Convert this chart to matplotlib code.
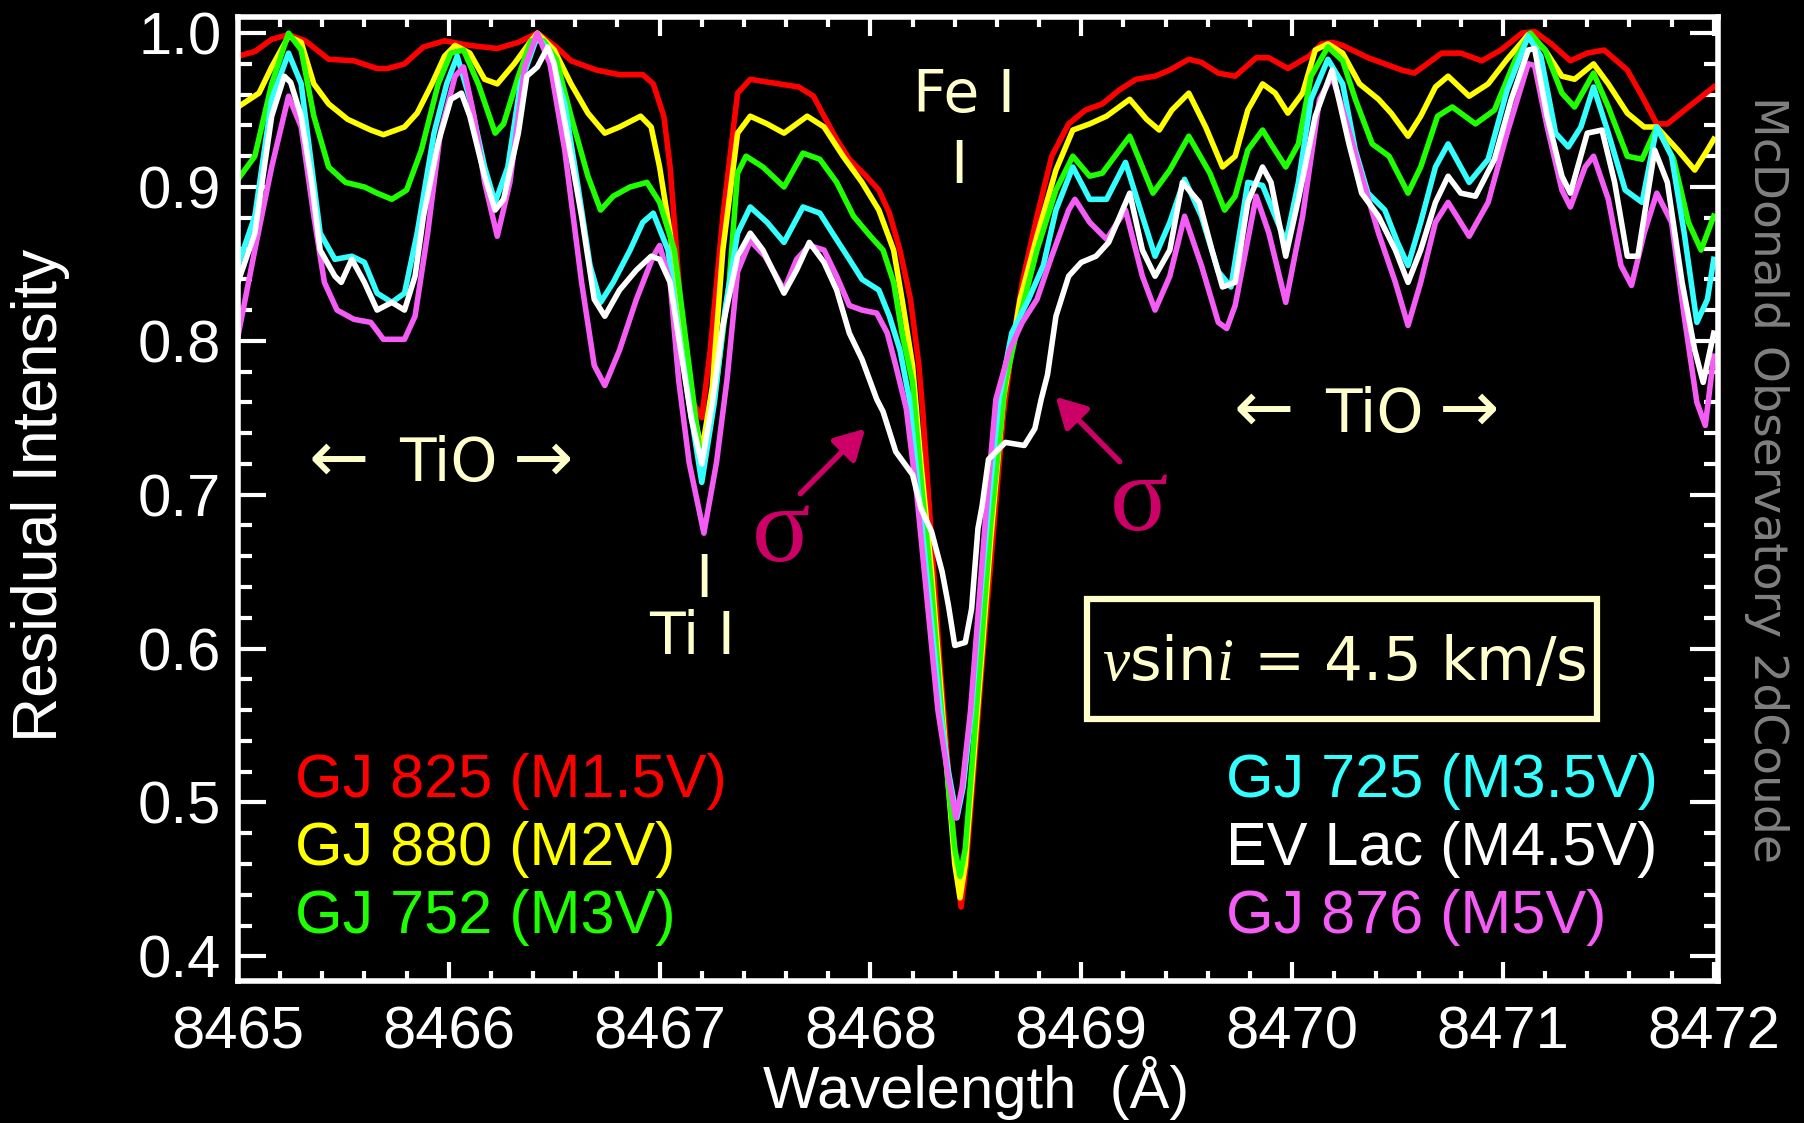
import matplotlib
matplotlib.use('Agg')
import matplotlib.pyplot as plt
from matplotlib.patches import Rectangle
from matplotlib.ticker import MultipleLocator

plt.rcParams['font.family'] = ['Liberation Sans', 'DejaVu Sans']
plt.rcParams['mathtext.fontset'] = 'custom'
plt.rcParams['mathtext.it'] = 'Liberation Serif:italic'
plt.rcParams['mathtext.rm'] = 'DejaVu Sans'

# ---------------- data ----------------
red_wl = [8465.00, 8465.08, 8465.16, 8465.24, 8465.32, 8465.43, 8465.55, 8465.66, 8465.71, 8465.79,
          8465.88, 8465.98, 8466.10, 8466.23, 8466.33, 8466.42, 8466.51, 8466.58, 8466.70, 8466.81,
          8466.92, 8466.97, 8467.02, 8467.05, 8467.08, 8467.11, 8467.15, 8467.20, 8467.24, 8467.30,
          8467.37, 8467.43, 8467.52, 8467.66, 8467.73, 8467.78, 8467.84, 8467.90, 8467.98, 8468.04,
          8468.09, 8468.14, 8468.19, 8468.23, 8468.25, 8468.29, 8468.33, 8468.37, 8468.405, 8468.43,
          8468.455, 8468.49, 8468.53, 8468.58, 8468.63, 8468.67, 8468.72, 8468.79, 8468.86, 8468.94,
          8469.02, 8469.10, 8469.18, 8469.26, 8469.35, 8469.42, 8469.51, 8469.57, 8469.65, 8469.73,
          8469.83, 8469.89, 8469.98, 8470.08, 8470.14, 8470.19, 8470.24, 8470.36, 8470.52, 8470.58,
          8470.71, 8470.80, 8470.90, 8470.99, 8471.09, 8471.15, 8471.23, 8471.32, 8471.40, 8471.48,
          8471.59, 8471.66, 8471.73, 8471.78, 8471.88, 8472.00]
red_int = [0.985, 0.988, 0.996, 0.999, 0.995, 0.983, 0.982, 0.977, 0.977, 0.980,
           0.991, 0.995, 0.992, 0.990, 0.994, 1.000, 0.991, 0.982, 0.976, 0.973,
           0.973, 0.967, 0.946, 0.913, 0.859, 0.805, 0.762, 0.750, 0.794, 0.881,
           0.961, 0.970, 0.968, 0.965, 0.959, 0.946, 0.931, 0.918, 0.907, 0.898,
           0.883, 0.859, 0.827, 0.784, 0.751, 0.670, 0.590, 0.520, 0.460, 0.432,
           0.460, 0.520, 0.590, 0.670, 0.751, 0.794, 0.838, 0.881, 0.920, 0.941,
           0.950, 0.954, 0.963, 0.970, 0.972, 0.976, 0.983, 0.981, 0.974, 0.972,
           0.984, 0.984, 0.977, 0.985, 0.993, 0.994, 0.992, 0.984, 0.976, 0.974,
           0.987, 0.987, 0.982, 0.989, 1.000, 1.001, 0.993, 0.982, 0.987, 0.989,
           0.976, 0.959, 0.941, 0.941, 0.952, 0.965]

yellow_wl = [8465.00, 8465.10, 8465.16, 8465.24, 8465.30, 8465.36, 8465.43, 8465.52, 8465.63, 8465.69,
             8465.79, 8465.85, 8465.92, 8465.98, 8466.03, 8466.10, 8466.17, 8466.23, 8466.31, 8466.39,
             8466.42, 8466.50, 8466.58, 8466.66, 8466.74, 8466.81, 8466.91, 8466.96, 8467.00, 8467.05,
             8467.10, 8467.15, 8467.20, 8467.25, 8467.30, 8467.37, 8467.43, 8467.51, 8467.59, 8467.70,
             8467.78, 8467.87, 8467.96, 8468.04, 8468.11, 8468.15, 8468.20, 8468.24, 8468.29, 8468.33,
             8468.37, 8468.40, 8468.425, 8468.45, 8468.485, 8468.525, 8468.57, 8468.63, 8468.71, 8468.79,
             8468.88, 8468.96, 8469.04, 8469.12, 8469.23, 8469.31, 8469.37, 8469.43, 8469.51, 8469.59,
             8469.67, 8469.73, 8469.79, 8469.86, 8469.92, 8469.98, 8470.05, 8470.11, 8470.17, 8470.24,
             8470.32, 8470.41, 8470.47, 8470.55, 8470.61, 8470.68, 8470.74, 8470.84, 8470.93, 8471.02,
             8471.12, 8471.20, 8471.28, 8471.34, 8471.43, 8471.50, 8471.59, 8471.67, 8471.73, 8471.83,
             8471.91, 8471.97, 8472.00]
yellow_int = [0.952, 0.961, 0.978, 0.998, 0.994, 0.967, 0.954, 0.944, 0.937, 0.934,
              0.939, 0.948, 0.967, 0.985, 0.992, 0.987, 0.970, 0.967, 0.980, 0.995,
              1.000, 0.989, 0.967, 0.948, 0.935, 0.939, 0.946, 0.939, 0.913, 0.870,
              0.816, 0.762, 0.728, 0.770, 0.859, 0.935, 0.946, 0.941, 0.935, 0.946,
              0.939, 0.920, 0.903, 0.885, 0.859, 0.827, 0.784, 0.720, 0.650, 0.580,
              0.510, 0.460, 0.438, 0.460, 0.520, 0.590, 0.670, 0.762, 0.827, 0.868,
              0.911, 0.937, 0.941, 0.946, 0.957, 0.944, 0.937, 0.950, 0.961, 0.939,
              0.913, 0.920, 0.950, 0.967, 0.961, 0.948, 0.961, 0.989, 0.993, 0.987,
              0.967, 0.957, 0.948, 0.933, 0.946, 0.965, 0.972, 0.959, 0.967, 0.983,
              0.999, 0.989, 0.972, 0.970, 0.980, 0.967, 0.948, 0.939, 0.939, 0.924,
              0.911, 0.924, 0.931]

green_wl = [8465.00, 8465.08, 8465.16, 8465.24, 8465.30, 8465.36, 8465.43, 8465.51, 8465.60, 8465.66,
            8465.73, 8465.80, 8465.87, 8465.95, 8466.01, 8466.07, 8466.14, 8466.22, 8466.26, 8466.33,
            8466.39, 8466.45, 8466.51, 8466.58, 8466.66, 8466.72, 8466.78, 8466.86, 8466.94, 8467.00,
            8467.07, 8467.11, 8467.16, 8467.20, 8467.25, 8467.27, 8467.33, 8467.37, 8467.41, 8467.49,
            8467.59, 8467.68, 8467.76, 8467.84, 8467.92, 8468.00, 8468.06, 8468.11, 8468.15, 8468.20,
            8468.24, 8468.29, 8468.33, 8468.37, 8468.40, 8468.425, 8468.45, 8468.485, 8468.525, 8468.57,
            8468.64, 8468.71, 8468.79, 8468.88, 8468.96, 8469.04, 8469.10, 8469.23, 8469.34, 8469.42,
            8469.51, 8469.61, 8469.68, 8469.73, 8469.79, 8469.86, 8469.90, 8469.97, 8470.03, 8470.09,
            8470.17, 8470.24, 8470.30, 8470.38, 8470.46, 8470.55, 8470.61, 8470.69, 8470.76, 8470.87,
            8470.96, 8471.06, 8471.13, 8471.20, 8471.28, 8471.34, 8471.43, 8471.50, 8471.59, 8471.66,
            8471.73, 8471.81, 8471.88, 8471.94, 8472.00]
green_int = [0.905, 0.920, 0.967, 1.000, 0.989, 0.946, 0.913, 0.903, 0.900, 0.896,
             0.892, 0.898, 0.924, 0.967, 0.987, 0.989, 0.967, 0.935, 0.941, 0.972,
             0.995, 0.995, 0.983, 0.946, 0.907, 0.885, 0.894, 0.900, 0.903, 0.890,
             0.859, 0.816, 0.762, 0.718, 0.760, 0.773, 0.838, 0.909, 0.920, 0.913,
             0.900, 0.922, 0.918, 0.903, 0.881, 0.868, 0.859, 0.838, 0.805, 0.773,
             0.710, 0.640, 0.570, 0.510, 0.470, 0.452, 0.470, 0.530, 0.600, 0.680,
             0.773, 0.816, 0.859, 0.898, 0.920, 0.907, 0.909, 0.933, 0.896, 0.911,
             0.933, 0.909, 0.885, 0.894, 0.924, 0.937, 0.928, 0.913, 0.928, 0.972,
             0.991, 0.982, 0.957, 0.928, 0.920, 0.896, 0.913, 0.946, 0.952, 0.941,
             0.950, 0.983, 1.000, 0.989, 0.961, 0.952, 0.974, 0.952, 0.920, 0.918,
             0.939, 0.918, 0.877, 0.859, 0.881]

cyan_wl = [8465.00, 8465.08, 8465.16, 8465.24, 8465.30, 8465.35, 8465.39, 8465.46, 8465.54, 8465.60,
           8465.66, 8465.73, 8465.79, 8465.85, 8465.93, 8465.99, 8466.04, 8466.10, 8466.17, 8466.22,
           8466.28, 8466.34, 8466.42, 8466.48, 8466.55, 8466.61, 8466.67, 8466.72, 8466.78, 8466.86,
           8466.92, 8466.97, 8467.04, 8467.08, 8467.14, 8467.20, 8467.26, 8467.31, 8467.37, 8467.43,
           8467.51, 8467.59, 8467.68, 8467.76, 8467.82, 8467.90, 8467.96, 8468.04, 8468.09, 8468.14,
           8468.185, 8468.23, 8468.28, 8468.33, 8468.37, 8468.41, 8468.44, 8468.48, 8468.52, 8468.565,
           8468.61, 8468.67, 8468.75, 8468.82, 8468.88, 8468.96, 8469.04, 8469.12, 8469.21, 8469.29,
           8469.35, 8469.42, 8469.49, 8469.57, 8469.65, 8469.71, 8469.79, 8469.86, 8469.92, 8469.97,
           8470.03, 8470.09, 8470.17, 8470.24, 8470.30, 8470.36, 8470.44, 8470.50, 8470.55, 8470.61,
           8470.68, 8470.74, 8470.84, 8470.93, 8471.02, 8471.12, 8471.18, 8471.25, 8471.31, 8471.37,
           8471.43, 8471.50, 8471.58, 8471.66, 8471.73, 8471.80, 8471.86, 8471.92, 8471.97, 8472.00]
cyan_int = [0.849, 0.881, 0.957, 0.987, 0.967, 0.913, 0.870, 0.853, 0.855, 0.851,
            0.831, 0.825, 0.831, 0.870, 0.935, 0.967, 0.985, 0.957, 0.913, 0.890,
            0.913, 0.967, 0.998, 0.987, 0.954, 0.903, 0.849, 0.825, 0.838, 0.859,
            0.877, 0.883, 0.859, 0.816, 0.760, 0.708, 0.760, 0.820, 0.870, 0.887,
            0.877, 0.864, 0.887, 0.883, 0.870, 0.853, 0.840, 0.833, 0.816, 0.794,
            0.762, 0.700, 0.630, 0.560, 0.520, 0.490, 0.510, 0.560, 0.630, 0.700,
            0.762, 0.805, 0.827, 0.849, 0.885, 0.913, 0.892, 0.892, 0.916, 0.881,
            0.855, 0.877, 0.905, 0.881, 0.845, 0.835, 0.903, 0.901, 0.881, 0.864,
            0.903, 0.957, 0.983, 0.967, 0.924, 0.896, 0.885, 0.864, 0.849, 0.877,
            0.913, 0.928, 0.903, 0.918, 0.963, 0.998, 0.985, 0.935, 0.926, 0.939,
            0.965, 0.935, 0.898, 0.890, 0.939, 0.920, 0.870, 0.812, 0.827, 0.853]

white_wl = [8465.00, 8465.08, 8465.16, 8465.22, 8465.25, 8465.30, 8465.35, 8465.39, 8465.46, 8465.49,
            8465.54, 8465.60, 8465.66, 8465.73, 8465.79, 8465.84, 8465.88, 8465.95, 8466.01, 8466.06,
            8466.10, 8466.17, 8466.22, 8466.26, 8466.33, 8466.37, 8466.42, 8466.47, 8466.50, 8466.56,
            8466.63, 8466.69, 8466.74, 8466.81, 8466.89, 8466.96, 8467.00, 8467.05, 8467.10, 8467.15,
            8467.20, 8467.25, 8467.30, 8467.37, 8467.43, 8467.49, 8467.59, 8467.65, 8467.71, 8467.78,
            8467.84, 8467.90, 8467.96, 8468.03, 8468.06, 8468.12, 8468.20, 8468.24, 8468.29, 8468.34,
            8468.37, 8468.40, 8468.45, 8468.48, 8468.51, 8468.53, 8468.56, 8468.64, 8468.73, 8468.78,
            8468.81, 8468.84, 8468.88, 8468.94, 8469.00, 8469.07, 8469.13, 8469.23, 8469.29, 8469.35,
            8469.42, 8469.48, 8469.56, 8469.62, 8469.67, 8469.73, 8469.79, 8469.86, 8469.90, 8469.97,
            8470.03, 8470.11, 8470.19, 8470.27, 8470.33, 8470.41, 8470.49, 8470.55, 8470.61, 8470.68,
            8470.74, 8470.80, 8470.87, 8470.96, 8471.04, 8471.12, 8471.15, 8471.21, 8471.28, 8471.32,
            8471.40, 8471.47, 8471.53, 8471.59, 8471.64, 8471.72, 8471.78, 8471.85, 8471.91, 8471.95,
            8472.00]
white_int = [0.838, 0.870, 0.946, 0.972, 0.968, 0.946, 0.903, 0.859, 0.842, 0.838,
             0.853, 0.838, 0.820, 0.825, 0.820, 0.842, 0.881, 0.929, 0.957, 0.961,
             0.946, 0.907, 0.885, 0.892, 0.935, 0.972, 0.978, 0.991, 0.980, 0.935,
             0.881, 0.827, 0.816, 0.833, 0.846, 0.855, 0.853, 0.838, 0.794, 0.750,
             0.720, 0.760, 0.810, 0.855, 0.870, 0.859, 0.831, 0.846, 0.864, 0.851,
             0.833, 0.805, 0.788, 0.762, 0.754, 0.728, 0.713, 0.691, 0.676, 0.650,
             0.628, 0.602, 0.604, 0.626, 0.678, 0.693, 0.723, 0.734, 0.732, 0.743,
             0.762, 0.778, 0.816, 0.842, 0.851, 0.855, 0.864, 0.896, 0.859, 0.842,
             0.859, 0.903, 0.890, 0.859, 0.835, 0.838, 0.890, 0.913, 0.903, 0.855,
             0.892, 0.946, 0.976, 0.928, 0.896, 0.881, 0.859, 0.838, 0.859, 0.890,
             0.907, 0.896, 0.894, 0.918, 0.957, 0.989, 0.990, 0.946, 0.907, 0.896,
             0.935, 0.937, 0.903, 0.855, 0.855, 0.924, 0.903, 0.838, 0.794, 0.773,
             0.805]

magenta_wl = [8465.00, 8465.08, 8465.16, 8465.24, 8465.30, 8465.36, 8465.41, 8465.47, 8465.55, 8465.63,
              8465.69, 8465.79, 8465.84, 8465.90, 8465.96, 8466.03, 8466.07, 8466.12, 8466.17, 8466.23,
              8466.29, 8466.36, 8466.42, 8466.48, 8466.55, 8466.63, 8466.69, 8466.74, 8466.81, 8466.89,
              8466.97, 8467.00, 8467.05, 8467.09, 8467.14, 8467.21, 8467.27, 8467.32, 8467.37, 8467.43,
              8467.50, 8467.59, 8467.65, 8467.71, 8467.78, 8467.84, 8467.90, 8467.96, 8468.03, 8468.08,
              8468.12, 8468.17, 8468.22, 8468.27, 8468.32, 8468.365, 8468.405, 8468.435, 8468.475, 8468.515,
              8468.555, 8468.595, 8468.66, 8468.72, 8468.79, 8468.86, 8468.94, 8468.97, 8469.04, 8469.12,
              8469.21, 8469.29, 8469.35, 8469.42, 8469.49, 8469.57, 8469.65, 8469.69, 8469.73, 8469.83,
              8469.89, 8469.97, 8470.05, 8470.13, 8470.19, 8470.25, 8470.33, 8470.41, 8470.49, 8470.55,
              8470.61, 8470.68, 8470.74, 8470.84, 8470.93, 8471.02, 8471.12, 8471.15, 8471.21, 8471.28,
              8471.32, 8471.39, 8471.43, 8471.50, 8471.56, 8471.61, 8471.67, 8471.73, 8471.80, 8471.86,
              8471.92, 8471.96, 8472.00]
magenta_int = [0.803, 0.859, 0.913, 0.959, 0.939, 0.881, 0.838, 0.820, 0.814, 0.812,
               0.801, 0.801, 0.816, 0.870, 0.935, 0.972, 0.978, 0.946, 0.903, 0.868,
               0.903, 0.978, 1.000, 0.980, 0.924, 0.838, 0.784, 0.771, 0.794, 0.827,
               0.855, 0.862, 0.838, 0.775, 0.721, 0.675, 0.721, 0.775, 0.845, 0.865,
               0.855, 0.833, 0.853, 0.862, 0.859, 0.842, 0.823, 0.820, 0.818, 0.805,
               0.784, 0.756, 0.700, 0.630, 0.560, 0.520, 0.490, 0.510, 0.560, 0.630,
               0.700, 0.762, 0.794, 0.812, 0.827, 0.855, 0.885, 0.892, 0.877, 0.866,
               0.885, 0.842, 0.820, 0.842, 0.881, 0.849, 0.812, 0.808, 0.823, 0.894,
               0.870, 0.825, 0.881, 0.957, 0.972, 0.946, 0.907, 0.870, 0.838, 0.810,
               0.838, 0.877, 0.890, 0.868, 0.890, 0.935, 0.980, 0.979, 0.939, 0.898,
               0.887, 0.913, 0.920, 0.892, 0.849, 0.836, 0.870, 0.896, 0.877, 0.816,
               0.760, 0.745, 0.790]

star_labels = ["GJ 825 (M1.5V)", "GJ 880 (M2V)", "GJ 752 (M3V)",
               "GJ 725 (M3.5V)", "EV Lac (M4.5V)", "GJ 876 (M5V)"]
x_ticks = [8465, 8466, 8467, 8468, 8469, 8470, 8471, 8472]
x_tick_labels = ["8465", "8466", "8467", "8468", "8469", "8470", "8471", "8472"]
y_ticks = [0.4, 0.5, 0.6, 0.7, 0.8, 0.9, 1.0]
y_tick_labels = ["0.4", "0.5", "0.6", "0.7", "0.8", "0.9", "1.0"]

# ---------------- styling ----------------
C_RED = '#ff0000'
C_YEL = '#ffff00'
C_GRN = '#1eff00'
C_CYA = '#33ffff'
C_WHT = '#ffffff'
C_MAG = '#f55cf5'
CREAM = '#ffffcc'
SIGMA = '#cc0066'

fig = plt.figure(figsize=(18.04, 11.23), dpi=100, facecolor='black')
ax = fig.add_axes([0.1319, 0.1265, 0.8204, 0.8584])
ax.set_facecolor('black')

series = [(red_wl, red_int, C_RED), (yellow_wl, yellow_int, C_YEL),
          (green_wl, green_int, C_GRN), (cyan_wl, cyan_int, C_CYA),
          (magenta_wl, magenta_int, C_MAG), (white_wl, white_int, C_WHT)]
for wl, iv, col in series:
    ax.plot(wl, iv, color=col, lw=4, solid_joinstyle='round')

ax.set_xlim(8465, 8472.02)
ax.set_ylim(0.384, 1.0105)

ax.set_xticks(x_ticks)
ax.set_xticklabels(x_tick_labels)
ax.set_yticks(y_ticks)
ax.set_yticklabels(y_tick_labels)
ax.xaxis.set_minor_locator(MultipleLocator(0.2))
ax.yaxis.set_minor_locator(MultipleLocator(0.02))

for sp in ax.spines.values():
    sp.set_color('white')
    sp.set_linewidth(4)

ax.tick_params(axis='both', which='both', direction='in', colors='white',
               top=True, right=True, width=3, labelsize=43)
ax.tick_params(axis='x', which='major', length=14, pad=18)
ax.tick_params(axis='x', which='minor', length=7)
ax.tick_params(axis='y', which='major', length=20, pad=12)
ax.tick_params(axis='y', which='minor', length=10)

fig.text(0.0225, 0.559, "Residual Intensity", rotation=90, ha='center', va='center',
         color='white', fontsize=45)
fig.text(0.541, 0.031, "Wavelength  (Å)", ha='center', va='center',
         color='white', fontsize=43)

# legend texts (colored labels)
left_cols = [C_RED, C_YEL, C_GRN]
right_cols = [C_CYA, C_WHT, C_MAG]
base_y = [797, 865, 933]
for i in range(3):
    fig.text(295 / 1804, 1 - base_y[i] / 1123, star_labels[i], color=left_cols[i],
             fontsize=44, ha='left', va='baseline')
    fig.text(1226 / 1804, 1 - base_y[i] / 1123, star_labels[i + 3], color=right_cols[i],
             fontsize=44, ha='left', va='baseline')

ann = dict(color=CREAM, family=['DejaVu Sans'], ha='center', va='center')
# TiO band markers: left and right
ax.text(8465.48, 0.7215, "\u2190", fontsize=52, **ann)
ax.text(8465.996, 0.7195, "TiO", fontsize=43, **ann)
ax.text(8466.447, 0.7215, "\u2192", fontsize=52, **ann)
ax.text(8469.866, 0.7536, "\u2190", fontsize=52, **ann)
ax.text(8470.388, 0.7516, "TiO", fontsize=43, **ann)
ax.text(8470.84, 0.7536, "\u2192", fontsize=52, **ann)
ax.text(8468.444, 0.9596, "Fe I", fontsize=42, **ann)
ax.text(8468.42, 0.913, "I", fontsize=42, **ann)
ax.text(8467.152, 0.607, "Ti I", fontsize=42, **ann)
ax.text(8467.21, 0.644, "I", fontsize=42, **ann)

# sigma markers with arrows
ax.text(8467.578, 0.6735, "\u03c3", color=SIGMA, fontsize=78,
        family=['Liberation Serif', 'DejaVu Serif'], ha='center', va='center')
ax.text(8469.276, 0.694, "\u03c3", color=SIGMA, fontsize=78,
        family=['Liberation Serif', 'DejaVu Serif'], ha='center', va='center')
arrow_kw = dict(arrowstyle='-|>,head_length=0.9,head_width=0.5', color=SIGMA,
                lw=4, mutation_scale=20, shrinkA=0, shrinkB=0)
ax.annotate("", xy=(8467.975, 0.7429), xytext=(8467.668, 0.7007), arrowprops=arrow_kw)
ax.annotate("", xy=(8468.879, 0.7636), xytext=(8469.182, 0.7215), arrowprops=arrow_kw)

# v sin i box
ax.add_patch(Rectangle((8469.027, 0.5545), 8471.444 - 8469.027, 0.6322 - 0.5545,
                       fill=False, edgecolor=CREAM, lw=4.5))
ax.text(8470.246, 0.5794, r"$v$sin$i$ = 4.5 km/s", color=CREAM, fontsize=44,
        family=['DejaVu Sans'], ha='center', va='baseline')

fig.text(1766 / 1804, 1 - 480 / 1123, "McDonald Observatory 2dCoude", color='#808080',
         fontsize=34, family=['DejaVu Sans'], rotation=-90, ha='center', va='center')

fig.savefig('out.png', dpi=100, facecolor='black')
